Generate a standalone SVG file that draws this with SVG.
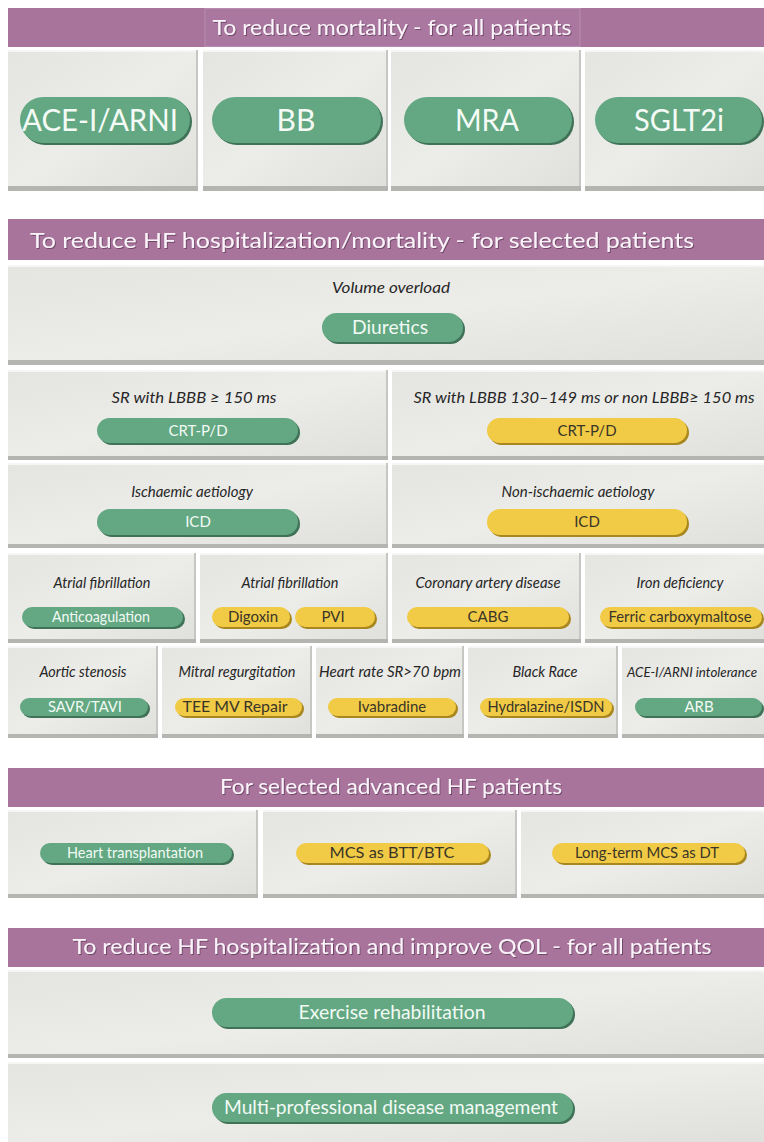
<svg xmlns="http://www.w3.org/2000/svg" width="764" height="1142" viewBox="0 0 764 1142">
<defs>
<linearGradient id="cellg" x1="0" y1="0" x2="1" y2="1">
<stop offset="0" stop-color="#e4e4e0"/>
<stop offset="0.5" stop-color="#ecece9"/>
<stop offset="1" stop-color="#dfdfdb"/>
</linearGradient>
<filter id="ts" x="-5%" y="-30%" width="110%" height="160%">
<feDropShadow dx="1" dy="1" stdDeviation="0.6" flood-color="#5a3552" flood-opacity="0.7"/>
</filter>
<style>
.cell{fill:url(#cellg)}
.cb{fill:#b4b4b0}
.cr{fill:#c6c6c2}
.ct{fill:#f6f6f4}
.hdr{fill:#a8749c}
.hbox{fill:#aa77a0;stroke:#b88cae;stroke-width:1}
.ht{font-family:Lato,"Liberation Sans",sans-serif;font-size:22px;fill:#fbf3fa;text-anchor:middle;filter:url(#ts)}
.g{fill:#63a882}
.gs{fill:#3f7257}
.y{fill:#f1cb45}
.ys{fill:#a9871f}
.big{font-family:Lato,"Liberation Sans",sans-serif;font-size:30px;fill:#f4fbf6;text-anchor:middle}
.pt{font-family:Lato,"Liberation Sans",sans-serif;font-size:15px;text-anchor:middle}
.pm{font-size:19px}
.ps{font-size:15px}
.pg{fill:#f2faf5}
.py{fill:#3a3528}
.lab{font-family:Lato,"Liberation Sans",sans-serif;font-style:italic;font-size:15px;fill:#262626;text-anchor:middle}
.labs{font-size:13px;text-anchor:start}
</style>
</defs>
<rect width="764" height="1142" fill="#ffffff"/>

<!-- Section 1 -->
<g id="header1">
<rect class="hdr" x="8" y="8" width="756" height="39"/>
<rect class="hbox" x="205" y="8.5" width="375" height="38"/>
<text class="ht" x="392" y="35" textLength="359" lengthAdjust="spacingAndGlyphs">To reduce mortality - for all patients</text>
</g>
<g id="cell-acei">
<rect class="cell" x="8" y="50" width="190" height="141"/><rect class="ct" x="8" y="50" width="190" height="2"/><rect class="cr" x="196" y="50" width="2" height="141"/><rect class="cb" x="8" y="186" width="190" height="5"/>
<rect class="gs" x="22" y="99" width="170" height="46" rx="23"/><rect class="g" x="20" y="97" width="170" height="46" rx="23"/>
<text class="big" x="100" y="131" textLength="156" lengthAdjust="spacingAndGlyphs">ACE-I/ARNI</text>
</g>
<g id="cell-bb">
<rect class="cell" x="203" y="50" width="185" height="141"/><rect class="ct" x="203" y="50" width="185" height="2"/><rect class="cr" x="386" y="50" width="2" height="141"/><rect class="cb" x="203" y="186" width="185" height="5"/>
<rect class="gs" x="214" y="99" width="169" height="46" rx="23"/><rect class="g" x="212" y="97" width="169" height="46" rx="23"/>
<text class="big" x="296" y="131">BB</text>
</g>
<g id="cell-mra">
<rect class="cell" x="391" y="50" width="190" height="141"/><rect class="ct" x="391" y="50" width="190" height="2"/><rect class="cr" x="579" y="50" width="2" height="141"/><rect class="cb" x="391" y="186" width="190" height="5"/>
<rect class="gs" x="406" y="99" width="168" height="46" rx="23"/><rect class="g" x="404" y="97" width="168" height="46" rx="23"/>
<text class="big" x="487" y="131" textLength="64" lengthAdjust="spacingAndGlyphs">MRA</text>
</g>
<g id="cell-sglt2i">
<rect class="cell" x="585" y="50" width="179" height="141"/><rect class="ct" x="585" y="50" width="179" height="2"/><rect class="cb" x="585" y="186" width="179" height="5"/>
<rect class="gs" x="597" y="99" width="167" height="46" rx="23"/><rect class="g" x="595" y="97" width="167" height="46" rx="23"/>
<text class="big" x="679" y="131" textLength="90" lengthAdjust="spacingAndGlyphs">SGLT2i</text>
</g>

<!-- Section 2 -->
<g id="header2">
<rect class="hdr" x="8" y="219" width="756" height="41"/>
<text class="ht" x="362" y="248" textLength="664" lengthAdjust="spacingAndGlyphs">To reduce HF hospitalization/mortality - for selected patients</text>
</g>
<g id="cell-volume">
<rect class="cell" x="8" y="265" width="756" height="100"/><rect class="ct" x="8" y="265" width="756" height="2"/><rect class="cb" x="8" y="360" width="756" height="5"/>
<text class="lab" x="391" y="293" textLength="118" lengthAdjust="spacingAndGlyphs">Volume overload</text>
<rect class="gs" x="324" y="315" width="141" height="29" rx="14.5"/><rect class="g" x="322" y="313" width="141" height="29" rx="14.5"/>
<text class="pt pm pg" x="390" y="334" textLength="76" lengthAdjust="spacingAndGlyphs">Diuretics</text>
</g>
<g id="cell-sr-lbbb150">
<rect class="cell" x="8" y="370" width="380" height="90"/><rect class="ct" x="8" y="370" width="380" height="2"/><rect class="cr" x="386" y="370" width="2" height="90"/><rect class="cb" x="8" y="456" width="380" height="4"/>
<text class="lab" x="194" y="403" textLength="165" lengthAdjust="spacingAndGlyphs">SR with LBBB ≥ 150 ms</text>
<rect class="gs" x="99" y="420" width="201" height="25" rx="12.5"/><rect class="g" x="97" y="418" width="201" height="25" rx="12.5"/>
<text class="pt ps pg" x="198" y="436">CRT-P/D</text>
</g>
<g id="cell-sr-lbbb130">
<rect class="cell" x="392" y="370" width="372" height="90"/><rect class="ct" x="392" y="370" width="372" height="2"/><rect class="cb" x="392" y="456" width="372" height="4"/>
<text class="lab" x="584" y="403" textLength="341" lengthAdjust="spacingAndGlyphs">SR with LBBB 130–149 ms or non LBBB≥ 150 ms</text>
<rect class="ys" x="489" y="420" width="200" height="25" rx="12.5"/><rect class="y" x="487" y="418" width="200" height="25" rx="12.5"/>
<text class="pt ps py" x="587" y="436">CRT-P/D</text>
</g>
<g id="cell-ischaemic">
<rect class="cell" x="8" y="463" width="380" height="85"/><rect class="ct" x="8" y="463" width="380" height="2"/><rect class="cr" x="386" y="463" width="2" height="85"/><rect class="cb" x="8" y="544" width="380" height="4"/>
<text class="lab" x="192" y="497">Ischaemic aetiology</text>
<rect class="gs" x="99" y="511" width="201" height="26" rx="13"/><rect class="g" x="97" y="509" width="201" height="26" rx="13"/>
<text class="pt ps pg" x="198" y="527">ICD</text>
</g>
<g id="cell-non-ischaemic">
<rect class="cell" x="392" y="463" width="372" height="85"/><rect class="ct" x="392" y="463" width="372" height="2"/><rect class="cb" x="392" y="544" width="372" height="4"/>
<text class="lab" x="578" y="497">Non-ischaemic aetiology</text>
<rect class="ys" x="489" y="511" width="200" height="26" rx="13"/><rect class="y" x="487" y="509" width="200" height="26" rx="13"/>
<text class="pt ps py" x="587" y="527">ICD</text>
</g>
<g id="cell-af-anticoag">
<rect class="cell" x="8" y="553" width="188" height="90"/><rect class="ct" x="8" y="553" width="188" height="2"/><rect class="cr" x="194" y="553" width="2" height="90"/><rect class="cb" x="8" y="639" width="188" height="4"/>
<text class="lab" x="102" y="588" textLength="97" lengthAdjust="spacingAndGlyphs">Atrial fibrillation</text>
<rect class="gs" x="24" y="609" width="161" height="20" rx="10"/><rect class="g" x="22" y="607" width="161" height="20" rx="10"/>
<text class="pt pg" x="101" y="622" textLength="98" lengthAdjust="spacingAndGlyphs">Anticoagulation</text>
</g>
<g id="cell-af-rate">
<rect class="cell" x="200" y="553" width="188" height="90"/><rect class="ct" x="200" y="553" width="188" height="2"/><rect class="cr" x="386" y="553" width="2" height="90"/><rect class="cb" x="200" y="639" width="188" height="4"/>
<text class="lab" x="290" y="588" textLength="97" lengthAdjust="spacingAndGlyphs">Atrial fibrillation</text>
<rect class="ys" x="214" y="609" width="78" height="20" rx="10"/><rect class="y" x="212" y="607" width="78" height="20" rx="10"/>
<text class="pt py" x="253" y="622">Digoxin</text>
<rect class="ys" x="297" y="609" width="80" height="20" rx="10"/><rect class="y" x="295" y="607" width="80" height="20" rx="10"/>
<text class="pt py" x="333" y="622">PVI</text>
</g>
<g id="cell-cad">
<rect class="cell" x="392" y="553" width="189" height="90"/><rect class="ct" x="392" y="553" width="189" height="2"/><rect class="cr" x="579" y="553" width="2" height="90"/><rect class="cb" x="392" y="639" width="189" height="4"/>
<text class="lab" x="488" y="588" textLength="145" lengthAdjust="spacingAndGlyphs">Coronary artery disease</text>
<rect class="ys" x="409" y="609" width="162" height="20" rx="10"/><rect class="y" x="407" y="607" width="162" height="20" rx="10"/>
<text class="pt py" x="488" y="622">CABG</text>
</g>
<g id="cell-iron">
<rect class="cell" x="585" y="553" width="179" height="90"/><rect class="ct" x="585" y="553" width="179" height="2"/><rect class="cb" x="585" y="639" width="179" height="4"/>
<text class="lab" x="680" y="588" textLength="87" lengthAdjust="spacingAndGlyphs">Iron deficiency</text>
<rect class="ys" x="602" y="609" width="162" height="20" rx="10"/><rect class="y" x="600" y="607" width="162" height="20" rx="10"/>
<text class="pt py" x="680" y="622" textLength="143" lengthAdjust="spacingAndGlyphs">Ferric carboxymaltose</text>
</g>
<g id="cell-aortic">
<rect class="cell" x="8" y="646" width="150" height="92"/><rect class="ct" x="8" y="646" width="150" height="2"/><rect class="cr" x="156" y="646" width="2" height="92"/><rect class="cb" x="8" y="734" width="150" height="4"/>
<text class="lab" x="83" y="677" textLength="87" lengthAdjust="spacingAndGlyphs">Aortic stenosis</text>
<rect class="gs" x="22" y="700" width="128" height="18" rx="9"/><rect class="g" x="20" y="698" width="128" height="18" rx="9"/>
<text class="pt pg" x="85" y="712" textLength="74" lengthAdjust="spacingAndGlyphs">SAVR/TAVI</text>
</g>
<g id="cell-mitral">
<rect class="cell" x="162" y="646" width="150" height="92"/><rect class="ct" x="162" y="646" width="150" height="2"/><rect class="cr" x="310" y="646" width="2" height="92"/><rect class="cb" x="162" y="734" width="150" height="4"/>
<text class="lab" x="237" y="677" textLength="117" lengthAdjust="spacingAndGlyphs">Mitral regurgitation</text>
<rect class="ys" x="177" y="700" width="127" height="18" rx="9"/><rect class="y" x="175" y="698" width="127" height="18" rx="9"/>
<text class="pt py" x="235" y="712" textLength="105" lengthAdjust="spacingAndGlyphs">TEE MV Repair</text>
</g>
<g id="cell-heartrate">
<rect class="cell" x="316" y="646" width="148" height="92"/><rect class="ct" x="316" y="646" width="148" height="2"/><rect class="cr" x="462" y="646" width="2" height="92"/><rect class="cb" x="316" y="734" width="148" height="4"/>
<text class="lab" x="390" y="677" textLength="142" lengthAdjust="spacingAndGlyphs">Heart rate SR&gt;70 bpm</text>
<rect class="ys" x="330" y="700" width="128" height="18" rx="9"/><rect class="y" x="328" y="698" width="128" height="18" rx="9"/>
<text class="pt py" x="392" y="712">Ivabradine</text>
</g>
<g id="cell-black">
<rect class="cell" x="468" y="646" width="150" height="92"/><rect class="ct" x="468" y="646" width="150" height="2"/><rect class="cr" x="616" y="646" width="2" height="92"/><rect class="cb" x="468" y="734" width="150" height="4"/>
<text class="lab" x="545" y="677" textLength="65" lengthAdjust="spacingAndGlyphs">Black Race</text>
<rect class="ys" x="482" y="700" width="132" height="18" rx="9"/><rect class="y" x="480" y="698" width="132" height="18" rx="9"/>
<text class="pt py" x="546" y="712" textLength="117" lengthAdjust="spacingAndGlyphs">Hydralazine/ISDN</text>
</g>
<g id="cell-intolerance">
<rect class="cell" x="622" y="646" width="142" height="92"/><rect class="ct" x="622" y="646" width="142" height="2"/><rect class="cb" x="622" y="734" width="142" height="4"/>
<text class="lab labs" x="627" y="677" textLength="130" lengthAdjust="spacingAndGlyphs">ACE-I/ARNI intolerance</text>
<rect class="gs" x="637" y="700" width="127" height="18" rx="9"/><rect class="g" x="635" y="698" width="127" height="18" rx="9"/>
<text class="pt pg" x="699" y="712">ARB</text>
</g>

<!-- Section 3 -->
<g id="header3">
<rect class="hdr" x="8" y="768" width="756" height="39"/>
<text class="ht" x="391" y="794" textLength="342" lengthAdjust="spacingAndGlyphs">For selected advanced HF patients</text>
</g>
<g id="cell-transplant">
<rect class="cell" x="8" y="810" width="250" height="88"/><rect class="ct" x="8" y="810" width="250" height="2"/><rect class="cr" x="256" y="810" width="2" height="88"/><rect class="cb" x="8" y="894" width="250" height="4"/>
<rect class="gs" x="42" y="845" width="192" height="20" rx="10"/><rect class="g" x="40" y="843" width="192" height="20" rx="10"/>
<text class="pt pg" x="135" y="858" textLength="136" lengthAdjust="spacingAndGlyphs">Heart transplantation</text>
</g>
<g id="cell-mcs-btt">
<rect class="cell" x="263" y="810" width="254" height="88"/><rect class="ct" x="263" y="810" width="254" height="2"/><rect class="cr" x="515" y="810" width="2" height="88"/><rect class="cb" x="263" y="894" width="254" height="4"/>
<rect class="ys" x="298" y="845" width="193" height="20" rx="10"/><rect class="y" x="296" y="843" width="193" height="20" rx="10"/>
<text class="pt py" x="392" y="858" textLength="125" lengthAdjust="spacingAndGlyphs">MCS as BTT/BTC</text>
</g>
<g id="cell-mcs-dt">
<rect class="cell" x="521" y="810" width="243" height="88"/><rect class="ct" x="521" y="810" width="243" height="2"/><rect class="cb" x="521" y="894" width="243" height="4"/>
<rect class="ys" x="554" y="845" width="193" height="20" rx="10"/><rect class="y" x="552" y="843" width="193" height="20" rx="10"/>
<text class="pt py" x="647" y="858" textLength="144" lengthAdjust="spacingAndGlyphs">Long-term MCS as DT</text>
</g>

<!-- Section 4 -->
<g id="header4">
<rect class="hdr" x="8" y="928" width="756" height="39"/>
<text class="ht" x="392" y="954" textLength="639" lengthAdjust="spacingAndGlyphs">To reduce HF hospitalization and improve QOL - for all patients</text>
</g>
<g id="cell-exercise">
<rect class="cell" x="8" y="970" width="756" height="88"/><rect class="ct" x="8" y="970" width="756" height="2"/><rect class="cb" x="8" y="1054" width="756" height="4"/>
<rect class="gs" x="214" y="1000" width="361" height="29" rx="14.5"/><rect class="g" x="212" y="998" width="361" height="29" rx="14.5"/>
<text class="pt pm pg" x="392" y="1019" textLength="187" lengthAdjust="spacingAndGlyphs">Exercise rehabilitation</text>
</g>
<g id="cell-multi">
<rect class="cell" x="8" y="1062" width="756" height="80"/><rect class="ct" x="8" y="1062" width="756" height="2"/>
<rect class="gs" x="214" y="1095" width="361" height="29" rx="14.5"/><rect class="g" x="212" y="1093" width="361" height="29" rx="14.5"/>
<text class="pt pm pg" x="391" y="1114" textLength="334" lengthAdjust="spacingAndGlyphs">Multi-professional disease management</text>
</g>
</svg>
